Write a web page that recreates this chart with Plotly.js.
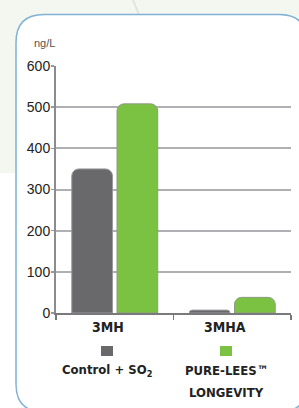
<!DOCTYPE html>
<html><head><meta charset="utf-8">
<script src="https://cdn.plot.ly/plotly-3.0.1.min.js"></script>
<style>html,body{margin:0;padding:0;background:#fff}#c{width:299px;height:408px}</style>
</head><body><div id="c"></div>
<script>
const categories = ["3MH", "3MHA"];
const seriesNames = ["Control + SO<sub>2</sub>", "PURE-LEES™<br>LONGEVITY"];
const controlValues = [350, 7];
const pureLeesValues = [508, 38];
const yTicks = [0, 100, 200, 300, 400, 500, 600];
const unitLabel = "ng/L";

const W = 299, H = 408, L = 56, R = 8, T = 66, B = 95;
const pw = W - L - R, ph = H - T - B;
const px = x => (x - L) / pw;
const py = y => (H - B - y) / ph;

const narrow = "Liberation Sans Narrow, DejaVu Sans Condensed, Arial Narrow, sans-serif";
const gray = "#69696c", green = "#7cc242";

function roundRect(x0, y0, x1, y1, r) {
  const X = v => px(v), Y = v => py(v);
  return `M ${X(x0 + r)} ${Y(y0)} L ${X(x1 - r)} ${Y(y0)} Q ${X(x1)} ${Y(y0)} ${X(x1)} ${Y(y0 + r)} ` +
    `L ${X(x1)} ${Y(y1 - r)} Q ${X(x1)} ${Y(y1)} ${X(x1 - r)} ${Y(y1)} L ${X(x0 + r)} ${Y(y1)} ` +
    `Q ${X(x0)} ${Y(y1)} ${X(x0)} ${Y(y1 - r)} L ${X(x0)} ${Y(y0 + r)} Q ${X(x0)} ${Y(y0)} ${X(x0 + r)} ${Y(y0)} Z`;
}

const traces = [
  {type: "bar", x: categories, y: controlValues, name: seriesNames[0],
   marker: {color: gray, line: {color: "#9a9a9d", width: 1}, cornerradius: 7}, hoverinfo: "skip"},
  {type: "bar", x: categories, y: pureLeesValues, name: seriesNames[1],
   marker: {color: green, line: {color: "#8e9a86", width: 1}, cornerradius: 7}, hoverinfo: "skip"}
];

const legendX = [107, 226];
const legendColors = [gray, green];
const shapes = [
  {type: "rect", xref: "paper", yref: "paper", x0: px(0), x1: px(W), y0: py(173), y1: py(0),
   fillcolor: "#f4f7ef", line: {width: 0}, layer: "below"},
  {type: "line", xref: "paper", yref: "paper", x0: px(133), x1: px(139), y0: py(0), y1: py(15),
   line: {color: "#e2e5de", width: 2}, layer: "below"},
  {type: "path", xref: "paper", yref: "paper", path: roundRect(16, 14.5, 307, 412, 28),
   fillcolor: "#ffffff", line: {color: "#7fb2d5", width: 1.5}, layer: "below"},
  ...legendX.map((lx, i) => ({type: "rect", xref: "paper", yref: "paper", x0: px(lx - 6), x1: px(lx + 6),
   y0: py(356), y1: py(346), fillcolor: legendColors[i], line: {width: 0}}))
];

const legendAnns = [];
seriesNames.forEach((name, i) => {
  name.split("<br>").forEach((line, j) => {
    legendAnns.push({xref: "paper", yref: "paper", x: px(legendX[i]), y: py(370 + 22 * j), xanchor: "center",
      yanchor: "middle", text: "<b>" + line + "</b>", showarrow: false,
      font: {family: narrow, size: 13, color: "#222"}});
  });
});

const annotations = [
  {xref: "paper", yref: "paper", x: px(32), y: py(43), xanchor: "left", yanchor: "middle", text: unitLabel,
   showarrow: false, font: {family: "Liberation Sans, Arial, sans-serif", size: 11, color: "#555"}},
  ...categories.map(c => ({xref: "x", yref: "paper", x: c, xshift: -7, y: py(327), xanchor: "center", yanchor: "middle",
    text: "<b>" + c + "</b>", showarrow: false, font: {family: narrow, size: 14, color: "#222"}})),
  ...legendAnns
];

const layout = {
  width: W, height: H, margin: {l: L, r: R, t: T, b: B},
  paper_bgcolor: "#ffffff", plot_bgcolor: "rgba(0,0,0,0)",
  showlegend: false, barmode: "group", bargap: 0.23, bargroupgap: 0.1,
  xaxis: {type: "category", showticklabels: false, tickson: "boundaries", ticks: "outside", ticklen: 5,
    tickcolor: "#777", tickwidth: 1.5, showline: true, linecolor: "#7a7a7d", linewidth: 2,
    showgrid: false, zeroline: false, fixedrange: true},
  yaxis: {range: [0, 600], tickvals: yTicks, ticks: "outside", ticklen: 3, tickcolor: "#999", tickwidth: 1.5,
    showline: true, linecolor: "#8c8c90", linewidth: 2, gridcolor: "#b0b0b4", gridwidth: 2,
    ticklabelstandoff: -2,
    zeroline: false, tickfont: {family: "Liberation Sans, Arial, sans-serif", size: 14, color: "#222"},
    fixedrange: true},
  shapes: shapes, annotations: annotations
};

Plotly.newPlot("c", traces, layout, {staticPlot: true, displayModeBar: false});
</script></body></html>
